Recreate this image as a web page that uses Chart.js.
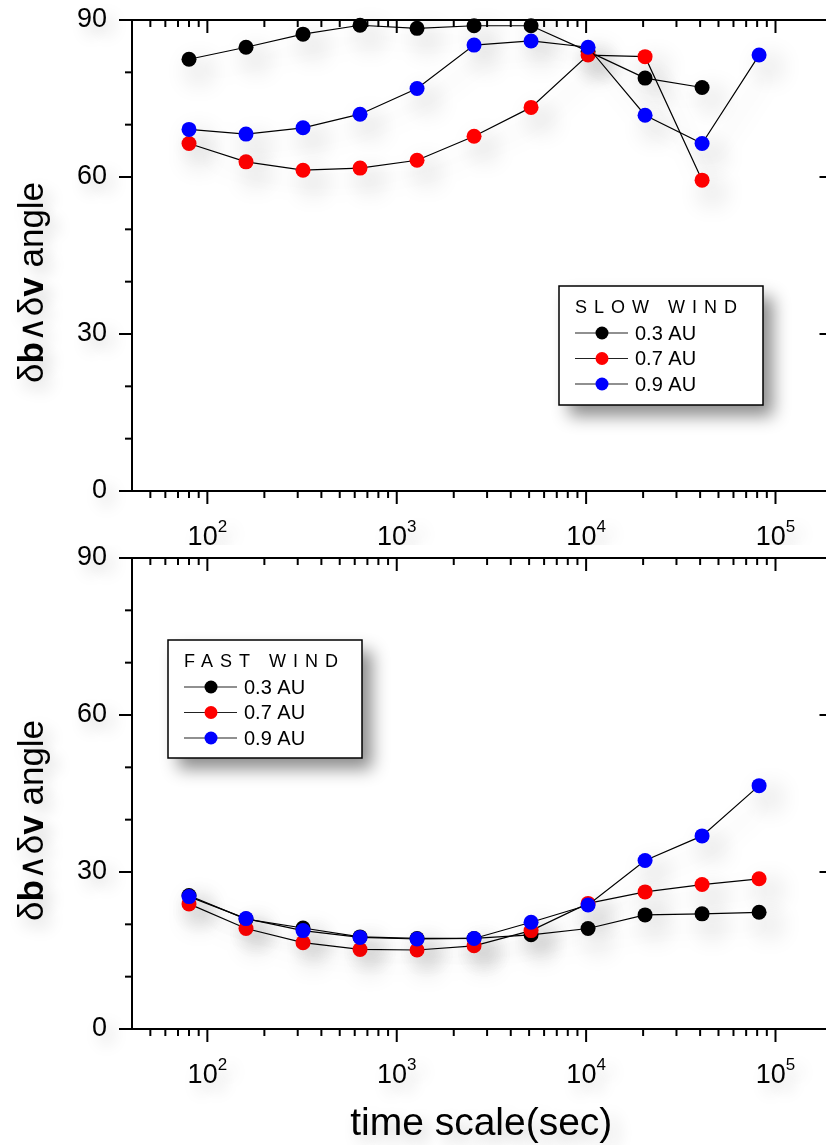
<!DOCTYPE html>
<html>
<head>
<meta charset="utf-8">
<script src="https://cdn.jsdelivr.net/npm/chart.js"></script>
<style>
    html, body { margin: 0; padding: 0; background: #fff; overflow: hidden; width: 826px; height: 1145px; }
    .panel { position: absolute; left: 0; }
</style>
</head>
<body>
<div class="panel" style="top:0"><canvas id="graficoLento" width="840" height="545"></canvas></div>
<div class="panel" style="top:545px"><canvas id="graficoRapido" width="840" height="600"></canvas></div>
<script>
// --- Datos ---
const escalaTiempo = [80, 160, 320, 640, 1280, 2560, 5120, 10240, 20480, 40960, 81920];
const lento03 = [82.5, 84.8, 87.3, 89.0, 88.4, 88.9, 88.9, 84.0, 78.9, 77.1, null];
const lento07 = [66.4, 62.9, 61.3, 61.7, 63.2, 67.8, 73.3, 83.3, 83.0, 59.4, null];
const lento09 = [69.1, 68.2, 69.4, 72.0, 76.9, 85.2, 86.0, 84.8, 71.8, 66.4, 83.3];
const rapido03 = [25.5, 21.0, 19.3, 17.6, 17.3, 17.3, 18.0, 19.2, 21.8, 22.0, 22.3];
const rapido07 = [23.9, 19.2, 16.5, 15.2, 15.1, 15.9, 18.8, 24.0, 26.2, 27.6, 28.7];
const rapido09 = [25.3, 21.1, 18.8, 17.5, 17.2, 17.3, 20.4, 23.7, 32.2, 36.9, 46.5];
const etiquetasSerie = ["0.3 AU", "0.7 AU", "0.9 AU"];
const coloresSerie = ["#000000", "#ff0000", "#0000ff"];
const ticksY = [0, 30, 60, 90];
const decadasX = [2, 3, 4, 5];

const FUENTE = '"Liberation Sans", Arial, Helvetica, sans-serif';

// --- Utilidades ---
function puntos(valores) {
    return escalaTiempo
        .map((t, i) => ({ x: t, y: valores[i] }))
        .filter(p => p.y !== null);
}

function linea(ctx, x1, y1, x2, y2) {
    ctx.beginPath();
    ctx.moveTo(x1, y1);
    ctx.lineTo(x2, y2);
    ctx.stroke();
}

function sombra(ctx, color, blur, dx, dy) {
    ctx.shadowColor = color;
    ctx.shadowBlur = blur;
    ctx.shadowOffsetX = dx;
    ctx.shadowOffsetY = dy;
}

function textoEjeY(ctx, x, yCentro) {
    const partes = [
        { t: "\u03b4", b: false }, { t: "b", b: true }, { t: "\u2227", b: false },
        { t: "\u03b4", b: false }, { t: "v", b: true }, { t: " angle", b: false }
    ];
    const fuente = b => (b ? "bold " : "") + "35px " + FUENTE;
    let ancho = 0;
    partes.forEach(p => { ctx.font = fuente(p.b); ancho += ctx.measureText(p.t).width; });
    ctx.save();
    ctx.translate(x, yCentro);
    ctx.rotate(-Math.PI / 2);
    ctx.textAlign = "left";
    ctx.textBaseline = "alphabetic";
    let pos = -ancho / 2;
    partes.forEach(p => {
        ctx.font = fuente(p.b);
        ctx.fillText(p.t, pos, 0);
        pos += ctx.measureText(p.t).width;
    });
    ctx.restore();
}

// --- Plugin de marco, ejes y leyenda ---
function crearMarco(cfg) {
    return {
        id: "marco",
        beforeDatasetsDraw(chart) {
            const ctx = chart.ctx;
            const { left, right, top, bottom } = chart.chartArea;
            const ex = chart.scales.x, ey = chart.scales.y;

            ctx.save();
            ctx.strokeStyle = "#000";
            ctx.lineWidth = 2;
            ctx.lineCap = "butt";
            ctx.strokeRect(left, top, right - left, bottom - top);

            for (let v = 0; v <= 90; v += 10) {
                const py = ey.getPixelForValue(v);
                const mayor = v % 30 === 0;
                linea(ctx, left - (mayor ? 13 : 7), py, left, py);
                // a la derecha solo asoman los ticks mayores
                if (mayor) linea(ctx, right - 13, py, right, py);
            }
            for (let d = 1; d <= 5; d++) {
                for (let k = 1; k <= 9; k++) {
                    const v = k * Math.pow(10, d);
                    if (v <= ex.min || v >= ex.max) continue;
                    const px = ex.getPixelForValue(v);
                    const largo = k === 1 ? 13 : 7;
                    linea(ctx, px, bottom, px, bottom + largo);
                    linea(ctx, px, top, px, top + largo);
                }
            }

            // textos con sombra suave
            sombra(ctx, "rgba(0,0,0,0.22)", 16, 7, 8);
            ctx.fillStyle = "#000";
            ctx.font = "27px " + FUENTE;
            ctx.textAlign = "right";
            ctx.textBaseline = "middle";
            ticksY.forEach(v => ctx.fillText(String(v), left - 25, ey.getPixelForValue(v)));

            ctx.textAlign = "left";
            ctx.textBaseline = "alphabetic";
            decadasX.forEach(n => {
                const px = ex.getPixelForValue(Math.pow(10, n));
                ctx.font = "27px " + FUENTE;
                const a1 = ctx.measureText("10").width;
                ctx.font = "17px " + FUENTE;
                const a2 = ctx.measureText(String(n)).width;
                const x0 = px - (a1 + a2) / 2;
                ctx.font = "27px " + FUENTE;
                ctx.fillText("10", x0, bottom + 54);
                ctx.font = "17px " + FUENTE;
                ctx.fillText(String(n), x0 + a1, bottom + 41);
            });

            textoEjeY(ctx, 43, (top + bottom) / 2 + 27);

            if (cfg.tituloX) {
                ctx.font = "39px " + FUENTE;
                ctx.textAlign = "center";
                ctx.fillText(cfg.tituloX, (left + right) / 2 - 1, bottom + 106);
            }
            ctx.restore();

            // sombra de las series
            ctx.save();
            sombra(ctx, "rgba(0,0,0,0.32)", 26, 10, 12);
        },
        afterDatasetsDraw(chart) {
            const ctx = chart.ctx;
            ctx.restore();

            const L = cfg.leyenda;
            ctx.save();
            sombra(ctx, "rgba(0,0,0,0.45)", 16, 10, 11);
            ctx.fillStyle = "#fff";
            ctx.fillRect(L.x, L.y, L.w, L.h);
            ctx.restore();

            ctx.save();
            ctx.strokeStyle = "#000";
            ctx.lineWidth = 1.5;
            ctx.strokeRect(L.x, L.y, L.w, L.h);

            ctx.fillStyle = "#000";
            ctx.font = "18px " + FUENTE;
            ctx.textBaseline = "alphabetic";
            ctx.textAlign = "left";
            ctx.letterSpacing = "7px";
            ctx.fillText(L.titulo, L.x + 16, L.y + 27);
            ctx.letterSpacing = "0px";

            ctx.font = "20px " + FUENTE;
            ctx.textBaseline = "middle";
            etiquetasSerie.forEach((et, i) => {
                const yf = L.y + 47 + i * 25.5;
                ctx.strokeStyle = "#222";
                ctx.lineWidth = 1.2;
                linea(ctx, L.x + 16, yf, L.x + 69, yf);
                ctx.fillStyle = coloresSerie[i];
                ctx.beginPath();
                ctx.arc(L.x + 43, yf, 6.5, 0, Math.PI * 2);
                ctx.fill();
                ctx.fillStyle = "#000";
                ctx.fillText(et, L.x + 76, yf + 1);
            });
            ctx.restore();
        }
    };
}

// --- Graficos ---
function crearGrafico(idCanvas, series, cfg) {
    const datasets = series.map((valores, i) => ({
        label: etiquetasSerie[i],
        data: puntos(valores),
        showLine: true,
        borderColor: "#000",
        borderWidth: 1.2,
        backgroundColor: coloresSerie[i],
        pointBackgroundColor: coloresSerie[i],
        pointBorderColor: coloresSerie[i],
        pointBorderWidth: 0,
        pointRadius: 7.5,
        clip: false,
        order: series.length - i
    }));

    new Chart(document.getElementById(idCanvas), {
        type: "scatter",
        data: { datasets: datasets },
        options: {
            responsive: false,
            animation: false,
            events: [],
            layout: { padding: { top: cfg.arriba, right: 5, left: 0, bottom: 0 } },
            plugins: { legend: { display: false }, tooltip: { enabled: false } },
            scales: {
                x: {
                    type: "logarithmic",
                    min: 40,
                    max: 200000,
                    grid: { display: false },
                    border: { display: false },
                    ticks: { display: false },
                    afterFit: s => { s.height = cfg.altoX; }
                },
                y: {
                    min: 0,
                    max: 90,
                    grid: { display: false },
                    border: { display: false },
                    ticks: { display: false },
                    afterFit: s => { s.width = 132; }
                }
            }
        },
        plugins: [crearMarco(cfg)]
    });
}

crearGrafico("graficoLento", [lento03, lento07, lento09], {
    arriba: 20,
    altoX: 54,
    leyenda: { x: 559, y: 286, w: 204, h: 119, titulo: "SLOW WIND" }
});

crearGrafico("graficoRapido", [rapido03, rapido07, rapido09], {
    arriba: 13,
    altoX: 116,
    tituloX: "time scale(sec)",
    leyenda: { x: 168, y: 95, w: 194, h: 118, titulo: "FAST WIND" }
});
</script>
</body>
</html>
